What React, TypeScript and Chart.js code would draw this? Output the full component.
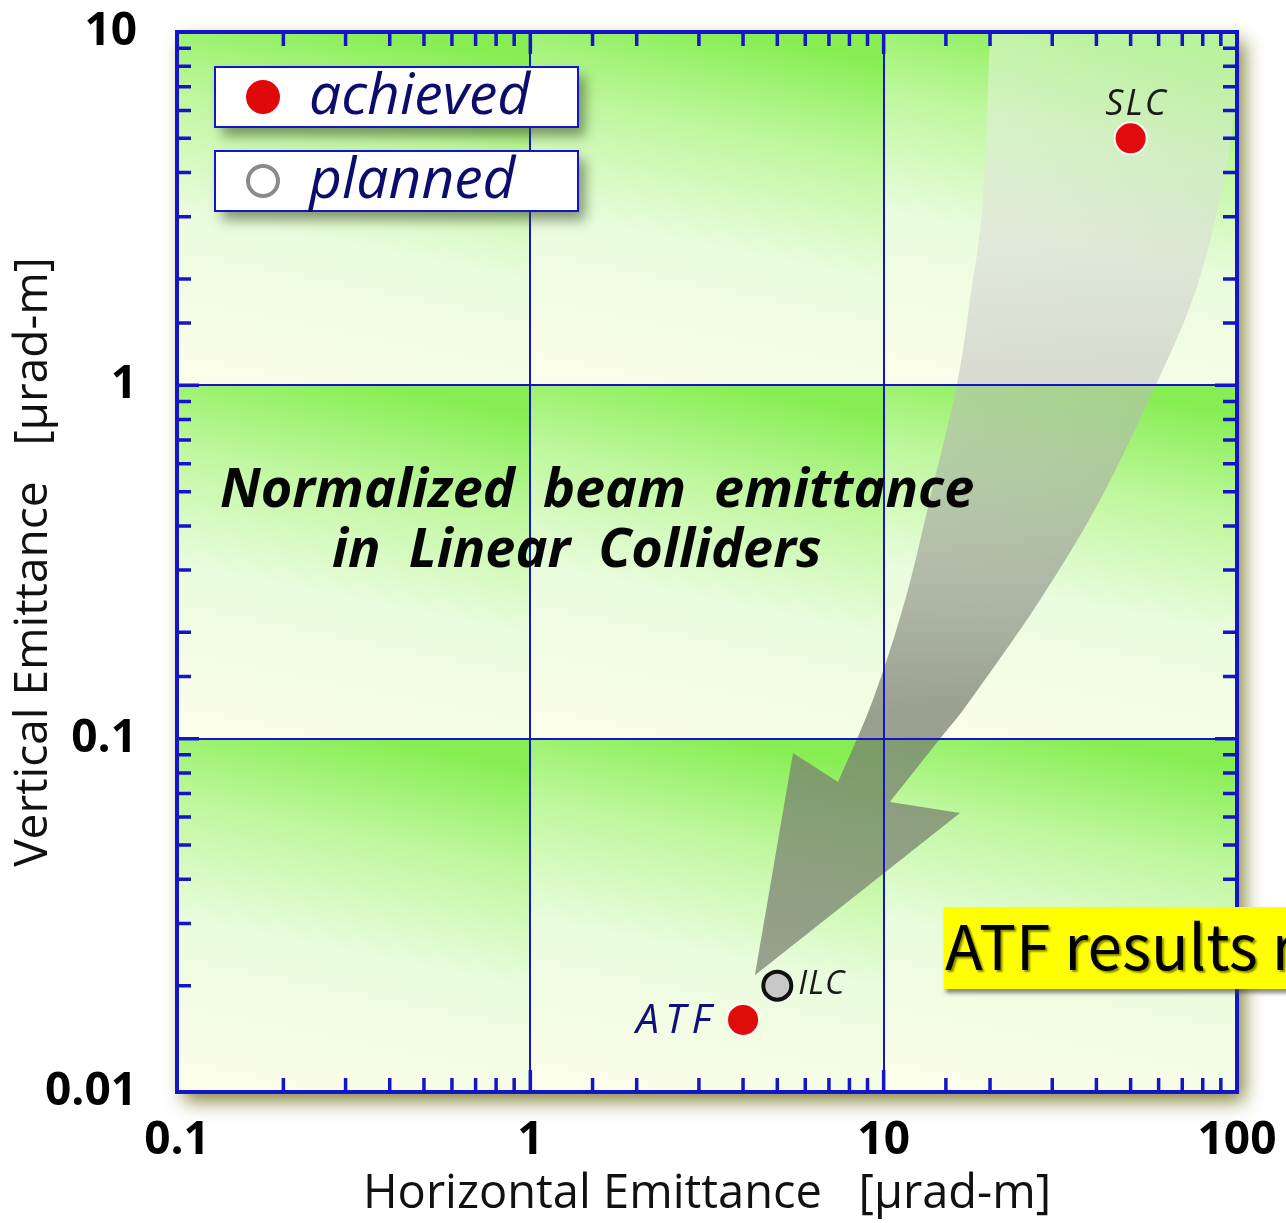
import React, { useEffect, useRef } from "react";
import { Chart, registerables } from "chart.js";
Chart.register(...registerables);

// ---- data ----
const xRange = [0.1, 100];
const yRange = [0.01, 10];
const xDecades = [0.1, 1, 10, 100];
const yDecades = [0.01, 0.1, 1, 10];
const achievedPoints = [
  { x: 50, y: 5, label: "SLC" },
  { x: 4, y: 0.016, label: "ATF" },
];
const plannedPoints = [{ x: 5, y: 0.02, label: "ILC" }];
const legendLabels = ["achieved", "planned"];
const titleLines = ["Normalized  beam  emittance", "in  Linear  Colliders"];
const xTitle = "Horizontal Emittance   [µrad-m]";
const yTitle = "Vertical Emittance   [µrad-m]";
const noteText = "ATF results r";
// big arrow, in data units
const arrowLeftEdge = [
  { x: 20.3, y: 14 }, { x: 20.0, y: 10 }, { x: 19.1, y: 3.35 }, { x: 17.55, y: 1.74 },
  { x: 16.1, y: 1.0 }, { x: 13.5, y: 0.474 }, { x: 11.5, y: 0.247 }, { x: 9.33, y: 0.129 },
  { x: 7.43, y: 0.0754 },
];
const arrowHead = [
  { x: 5.54, y: 0.0911 }, { x: 4.32, y: 0.0214 }, { x: 16.45, y: 0.0616 },
];
const arrowRightEdge = [
  { x: 10.42, y: 0.0662 }, { x: 14.43, y: 0.0999 }, { x: 17.6, y: 0.1287 }, { x: 27.7, y: 0.247 },
  { x: 40.96, y: 0.474 }, { x: 58.6, y: 0.989 }, { x: 77, y: 1.9 }, { x: 93, y: 4.07 },
  { x: 102, y: 8 }, { x: 108, y: 14 },
];

const FONT = '"Open Sans", "Noto Sans", sans-serif';
const BLUE = "#1414c8";

const isDecade = (v: number) => Math.abs(Math.log10(v) - Math.round(Math.log10(v))) < 1e-6;
const decadeLabel = (v: number) => (isDecade(v) ? String(Math.pow(10, Math.round(Math.log10(v)))) : "");

type P = { px: number; py: number };
function smoothEdge(ctx: CanvasRenderingContext2D, pts: P[], first: boolean) {
  if (first) ctx.moveTo(pts[0].px, pts[0].py);
  else ctx.lineTo(pts[0].px, pts[0].py);
  const n = pts.length;
  for (let i = 0; i < n - 1; i++) {
    const p0 = pts[Math.max(0, i - 1)];
    const p1 = pts[i];
    const p2 = pts[i + 1];
    const p3 = pts[Math.min(n - 1, i + 2)];
    ctx.bezierCurveTo(
      p1.px + (p2.px - p0.px) / 6, p1.py + (p2.py - p0.py) / 6,
      p2.px - (p3.px - p1.px) / 6, p2.py - (p3.py - p1.py) / 6,
      p2.px, p2.py
    );
  }
}

const decorPlugin = {
  id: "decor",
  beforeDatasetsDraw(chart: any) {
    const { ctx, chartArea: a, scales } = chart;
    const xs = scales.x, ys = scales.y;
    const W = a.right - a.left, H = a.bottom - a.top;

    // frame shadow
    ctx.save();
    ctx.shadowColor = "rgba(110,110,25,0.85)";
    ctx.shadowBlur = 18;
    ctx.shadowOffsetX = 7;
    ctx.shadowOffsetY = 9;
    ctx.fillStyle = "#ffffff";
    ctx.fillRect(a.left, a.top, W, H);
    ctx.restore();

    // decade cells with gradients
    for (let i = 0; i < xDecades.length - 1; i++) {
      for (let j = 0; j < yDecades.length - 1; j++) {
        const x1 = xs.getPixelForValue(xDecades[i]);
        const x2 = xs.getPixelForValue(xDecades[i + 1]);
        const y1 = ys.getPixelForValue(yDecades[j + 1]);
        const y2 = ys.getPixelForValue(yDecades[j]);
        const g = ctx.createLinearGradient(x1 + (x2 - x1) * 0.6, y1, x1 + (x2 - x1) * 0.4, y2);
        g.addColorStop(0, "#86ee52");
        g.addColorStop(0.28, "#bff79e");
        g.addColorStop(0.6, "#e9fcdd");
        g.addColorStop(1, "#fafde9");
        ctx.fillStyle = g;
        ctx.fillRect(x1, y1, x2 - x1, y2 - y1);
      }
    }

    const toPx = (p: { x: number; y: number }) => ({ px: xs.getPixelForValue(p.x), py: ys.getPixelForValue(p.y) });

    // arrow
    ctx.save();
    ctx.beginPath();
    ctx.rect(a.left, a.top, W, H);
    ctx.clip();
    const left = arrowLeftEdge.map(toPx);
    const head = arrowHead.map(toPx);
    const right = arrowRightEdge.map(toPx);
    ctx.beginPath();
    smoothEdge(ctx, left, true);
    head.forEach((p) => ctx.lineTo(p.px, p.py));
    smoothEdge(ctx, right, false);
    ctx.closePath();
    const tipY = head[1].py;
    const ag = ctx.createLinearGradient(0, a.top, 0, tipY);
    ag.addColorStop(0, "rgba(250,250,250,0.45)");
    ag.addColorStop(0.37, "rgba(190,190,188,0.55)");
    ag.addColorStop(0.72, "rgba(118,124,110,0.72)");
    ag.addColorStop(1, "rgba(128,136,118,0.78)");
    ctx.fillStyle = ag;
    ctx.fill();
    ctx.restore();

    // grid lines
    ctx.save();
    ctx.strokeStyle = BLUE;
    ctx.lineWidth = 2;
    xDecades.slice(1, -1).forEach((v) => {
      const p = Math.round(xs.getPixelForValue(v));
      ctx.beginPath();
      ctx.moveTo(p, a.top);
      ctx.lineTo(p, a.bottom);
      ctx.stroke();
    });
    yDecades.slice(1, -1).forEach((v) => {
      const p = Math.round(ys.getPixelForValue(v));
      ctx.beginPath();
      ctx.moveTo(a.left, p);
      ctx.lineTo(a.right, p);
      ctx.stroke();
    });
    ctx.restore();

    // inner title
    ctx.save();
    ctx.fillStyle = "#050505";
    ctx.font = `italic bold 54px ${FONT}`;
    ctx.textBaseline = "alphabetic";
    ctx.textAlign = "left";
    ctx.fillText(titleLines[0], a.left + 43, 507);
    ctx.fillText(titleLines[1], a.left + 155, 567);
    ctx.restore();

    // legend
    const lx = a.left + 38, lw = 363, lh = 60;
    const tops = [a.top + 35, a.top + 119];
    tops.forEach((ty, k) => {
      ctx.save();
      ctx.shadowColor = "rgba(50,70,30,0.55)";
      ctx.shadowBlur = 12;
      ctx.shadowOffsetX = 7;
      ctx.shadowOffsetY = 9;
      ctx.fillStyle = "#ffffff";
      ctx.fillRect(lx, ty, lw, lh);
      ctx.restore();
      ctx.save();
      ctx.strokeStyle = BLUE;
      ctx.lineWidth = 2;
      ctx.strokeRect(lx, ty, lw, lh);
      const cy = ty + lh / 2;
      ctx.beginPath();
      ctx.arc(lx + 48, cy, k === 0 ? 17 : 15, 0, Math.PI * 2);
      if (k === 0) {
        ctx.fillStyle = "#e00808";
        ctx.fill();
      } else {
        ctx.lineWidth = 4;
        ctx.strokeStyle = "#8a8a8a";
        ctx.stroke();
      }
      ctx.fillStyle = "#0c0c6c";
      ctx.font = `italic 57px ${FONT}`;
      ctx.textBaseline = "middle";
      ctx.textAlign = "left";
      ctx.fillText(legendLabels[k], lx + 94, cy + 1);
      ctx.restore();
    });

    // border
    ctx.save();
    ctx.strokeStyle = BLUE;
    ctx.lineWidth = 4;
    ctx.strokeRect(a.left, a.top, W, H);
    // ticks
    ctx.lineWidth = 3.5;
    xs.ticks.forEach((t: any) => {
      const v = t.value;
      if (v <= xRange[0] || v >= xRange[1]) return;
      const p = xs.getPixelForValue(v);
      const len = isDecade(v) ? 22 : 14;
      ctx.beginPath();
      ctx.moveTo(p, a.bottom);
      ctx.lineTo(p, a.bottom - len);
      ctx.moveTo(p, a.top);
      ctx.lineTo(p, a.top + len);
      ctx.stroke();
    });
    ys.ticks.forEach((t: any) => {
      const v = t.value;
      if (v <= yRange[0] || v >= yRange[1]) return;
      const p = ys.getPixelForValue(v);
      const len = isDecade(v) ? 22 : 14;
      ctx.beginPath();
      ctx.moveTo(a.left, p);
      ctx.lineTo(a.left + len, p);
      ctx.moveTo(a.right, p);
      ctx.lineTo(a.right - len, p);
      ctx.stroke();
    });
    ctx.restore();
  },
  afterDatasetsDraw(chart: any) {
    const { ctx } = chart;
    const m0 = chart.getDatasetMeta(0).data;
    const m1 = chart.getDatasetMeta(1).data;
    ctx.save();
    // SLC
    ctx.fillStyle = "#1a1a1a";
    ctx.font = `italic 36px ${FONT}`;
    ctx.textAlign = "center";
    ctx.textBaseline = "middle";
    (ctx as any).letterSpacing = "2px";
    ctx.fillText(achievedPoints[0].label, m0[0].x + 6, m0[0].y - 34);
    // ATF
    ctx.fillStyle = "#10107a";
    ctx.font = `italic 41px ${FONT}`;
    (ctx as any).letterSpacing = "6px";
    ctx.textAlign = "right";
    ctx.fillText(achievedPoints[1].label, m0[1].x - 26, m0[1].y + 1);
    // ILC
    ctx.fillStyle = "#1a1a1a";
    ctx.font = `italic 33px ${FONT}`;
    (ctx as any).letterSpacing = "1px";
    ctx.textAlign = "left";
    ctx.fillText(plannedPoints[0].label, m1[0].x + 21, m1[0].y - 1);
    (ctx as any).letterSpacing = "0px";

    // yellow note box
    ctx.save();
    ctx.shadowColor = "rgba(60,60,60,0.6)";
    ctx.shadowBlur = 4;
    ctx.shadowOffsetX = 2;
    ctx.shadowOffsetY = 4;
    ctx.fillStyle = "#ffff00";
    ctx.fillRect(944, 907, 360, 82);
    ctx.restore();
    ctx.shadowColor = "rgba(90,90,0,0.7)";
    ctx.shadowBlur = 2;
    ctx.shadowOffsetX = 2;
    ctx.shadowOffsetY = 2;
    ctx.fillStyle = "#000000";
    ctx.font = `62px "Noto Sans CJK JP", "Noto Sans", sans-serif`;
    ctx.textAlign = "left";
    ctx.textBaseline = "alphabetic";
    ctx.fillText(noteText, 945, 970);
    ctx.restore();
  },
};

const noPad = (s: any) => {
  s.paddingTop = 0;
  s.paddingBottom = 0;
  s.paddingLeft = 0;
  s.paddingRight = 0;
};

export default function App() {
  const ref = useRef<HTMLCanvasElement | null>(null);
  useEffect(() => {
    if (!ref.current) return;
    const chart = new Chart(ref.current, {
      type: "scatter",
      data: {
        datasets: [
          {
            label: legendLabels[0],
            data: achievedPoints.map((p) => ({ x: p.x, y: p.y })),
            pointRadius: 16,
            pointBackgroundColor: "#e00b0b",
            pointBorderColor: "rgba(255,255,255,0.9)",
            pointBorderWidth: 2,
          },
          {
            label: legendLabels[1],
            data: plannedPoints.map((p) => ({ x: p.x, y: p.y })),
            pointRadius: 14,
            pointBackgroundColor: "#c8c8c8",
            pointBorderColor: "#111111",
            pointBorderWidth: 4,
          },
        ],
      },
      options: {
        responsive: false,
        maintainAspectRatio: false,
        animation: false,
        layout: { padding: { top: 32, right: 49, left: 0, bottom: 0 } },
        plugins: { legend: { display: false }, tooltip: { enabled: false } },
        scales: {
          x: {
            type: "logarithmic",
            min: xRange[0],
            max: xRange[1],
            position: "bottom",
            grid: { display: false, drawTicks: false },
            border: { display: false },
            ticks: {
              autoSkip: false,
              maxRotation: 0,
              padding: 21,
              color: "#000",
              font: { family: FONT, weight: "bold", size: 46 },
              callback: (v: any) => decadeLabel(Number(v)),
            },
            title: {
              display: true,
              text: xTitle,
              color: "#111",
              font: { family: FONT, size: 47 },
              padding: { top: 0, bottom: 0 },
            },
            afterFit: (s: any) => {
              s.height = 131;
              noPad(s);
            },
          },
          y: {
            type: "logarithmic",
            min: yRange[0],
            max: yRange[1],
            position: "left",
            grid: { display: false, drawTicks: false },
            border: { display: false },
            ticks: {
              autoSkip: false,
              padding: 40,
              color: "#000",
              font: { family: FONT, weight: "bold", size: 46 },
              callback: (v: any) => decadeLabel(Number(v)),
            },
            title: {
              display: true,
              text: yTitle,
              color: "#111",
              font: { family: FONT, size: 46 },
              padding: { top: 6, bottom: 0 },
            },
            afterFit: (s: any) => {
              s.width = 177;
              noPad(s);
            },
          },
        },
      },
      plugins: [decorPlugin],
    } as any);
    return () => chart.destroy();
  }, []);
  return (
    <div style={{ position: "absolute", left: 0, top: 0, width: 1286, height: 1223, background: "#fff", overflow: "hidden" }}>
      <canvas ref={ref} width={1286} height={1223} style={{ display: "block" }} />
    </div>
  );
}
